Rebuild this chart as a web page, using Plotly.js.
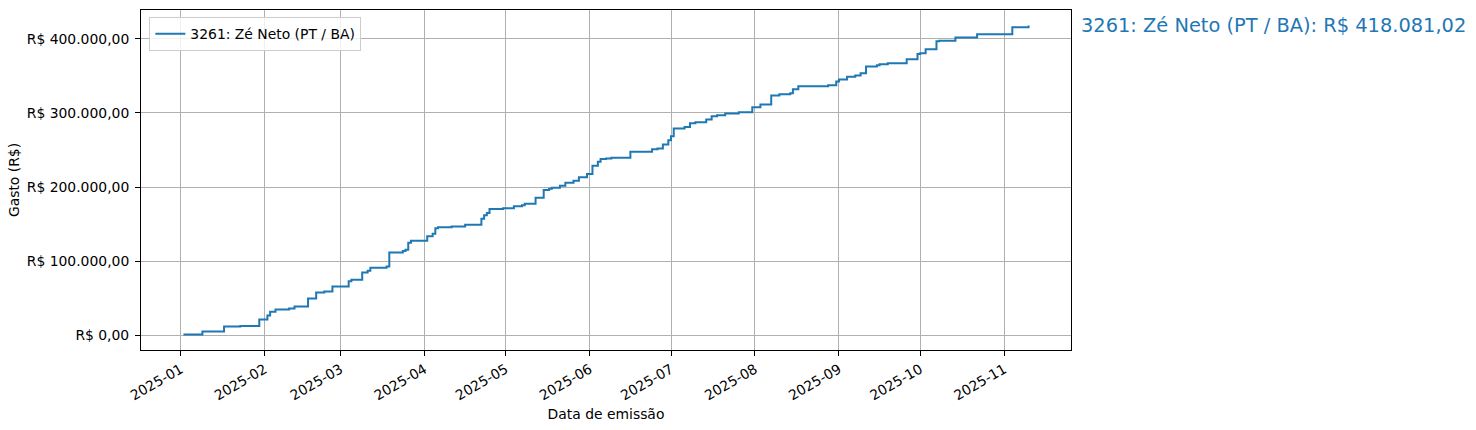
<!DOCTYPE html>
<html>
<head>
<meta charset="utf-8">
<script src="https://cdn.plot.ly/plotly-3.0.1.min.js"></script>
<style>
  html, body { margin: 0; padding: 0; background: #fff; }
  #grafico { width: 1476px; height: 430px; }
</style>
</head>
<body>
<div id="grafico"></div>
<script>
// gasto acumulado por data de emissão
const datasEmissao = [
  '2025-01-02', '2025-01-09', '2025-01-17', '2025-01-23', '2025-01-30',
  '2025-02-02', '2025-02-03', '2025-02-05', '2025-02-10', '2025-02-12',
  '2025-02-17', '2025-02-20', '2025-02-23', '2025-02-26', '2025-03-04',
  '2025-03-05', '2025-03-09', '2025-03-11', '2025-03-12', '2025-03-18',
  '2025-03-19', '2025-03-24', '2025-03-25', '2025-03-26', '2025-03-27',
  '2025-04-02', '2025-04-04', '2025-04-05', '2025-04-06', '2025-04-11',
  '2025-04-16', '2025-04-22', '2025-04-23', '2025-04-24', '2025-04-25',
  '2025-04-30', '2025-05-04', '2025-05-07', '2025-05-08', '2025-05-12',
  '2025-05-15', '2025-05-17', '2025-05-18', '2025-05-21', '2025-05-23',
  '2025-05-26', '2025-05-28', '2025-05-31', '2025-06-02', '2025-06-04',
  '2025-06-05', '2025-06-07', '2025-06-09', '2025-06-16', '2025-06-24',
  '2025-06-26', '2025-06-28', '2025-06-30', '2025-07-01', '2025-07-02',
  '2025-07-06', '2025-07-08', '2025-07-10', '2025-07-14', '2025-07-16',
  '2025-07-18', '2025-07-21', '2025-07-26', '2025-07-31', '2025-08-03',
  '2025-08-07', '2025-08-10', '2025-08-14', '2025-08-15', '2025-08-17',
  '2025-08-28', '2025-08-31', '2025-09-01', '2025-09-04', '2025-09-07',
  '2025-09-09', '2025-09-11', '2025-09-15', '2025-09-16', '2025-09-19',
  '2025-09-26', '2025-09-30', '2025-10-01', '2025-10-03', '2025-10-07',
  '2025-10-08', '2025-10-14', '2025-10-22', '2025-11-04', '2025-11-10'
];

const gastoAcumulado = [
  900, 4950, 11700, 12600, 21200,
  26600, 31500, 34700, 36000, 38700,
  49500, 57700, 59000, 65800, 73000,
  74800, 84700, 86900, 91000, 92800,
  111700, 113500, 115300, 124800, 127500,
  133500, 137000, 144500, 145700, 146800,
  149100, 157300, 161800, 165000, 170500,
  171400, 174100, 175500, 177300, 185500,
  196000, 197700, 199000, 201800, 205900,
  208600, 213200, 217700, 228600, 234100,
  237700, 238600, 239500, 247700, 251000,
  252000, 257500, 263000, 268500, 279000,
  281000, 286000, 287400, 291000, 295500,
  296800, 299100, 300900, 307700, 311300,
  323400, 325200, 326600, 332000, 336000,
  337400, 342300, 345000, 349000, 350400,
  353600, 362600, 364400, 365800, 367100,
  372300, 379500, 380500, 385800, 396600,
  397300, 401800, 406300, 415800, 418081.02
];

const nomeSerie = '3261: Zé Neto (PT / BA)';
const rotuloFinal = '3261: Zé Neto (PT / BA): R$ 418.081,02';

const ticksY = [0, 100000, 200000, 300000, 400000];
const rotulosY = ['R$ 0,00', 'R$ 100.000,00', 'R$ 200.000,00', 'R$ 300.000,00', 'R$ 400.000,00'];

const ticksX = [
  '2025-01-01', '2025-02-01', '2025-03-01', '2025-04-01', '2025-05-01', '2025-06-01',
  '2025-07-01', '2025-08-01', '2025-09-01', '2025-10-01', '2025-11-01'
];
const rotulosX = ticksX.map(d => d.slice(0, 7));

const azul = '#1f77b4';
const fonte = 'DejaVu Sans, sans-serif';

const trace = {
  x: datasEmissao,
  y: gastoAcumulado,
  type: 'scatter',
  mode: 'lines',
  name: nomeSerie,
  line: { color: azul, width: 2, shape: 'hv' }
};

const layout = {
  width: 1476,
  height: 430,
  margin: { l: 141, r: 405, t: 10, b: 80 },
  paper_bgcolor: '#fff',
  plot_bgcolor: '#fff',
  font: { family: fonte, size: 13.9, color: '#000' },
  showlegend: true,
  legend: {
    x: 0.009, y: 0.979, xanchor: 'left', yanchor: 'top',
    bgcolor: 'rgba(255,255,255,0.8)',
    bordercolor: '#cccccc', borderwidth: 1,
    font: { family: fonte, size: 13.9 }
  },
  xaxis: {
    type: 'date',
    range: ['2024-12-17 08:00', '2025-11-25 16:00'],
    tickvals: ticksX,
    ticktext: rotulosX,
    tickangle: -30,
    tickfont: { family: fonte, size: 13.9 },
    ticks: 'outside', ticklen: 5, tickcolor: '#000',
    showline: true, linecolor: '#000', linewidth: 1, mirror: true,
    showgrid: true, gridcolor: '#b0b0b0', gridwidth: 1,
    zeroline: false,
    title: { text: 'Data de emissão', font: { family: fonte, size: 13.9 }, standoff: 6 }
  },
  yaxis: {
    range: [-19959, 438940],
    tickvals: ticksY,
    ticktext: rotulosY,
    tickfont: { family: fonte, size: 13.9 },
    ticks: 'outside', ticklen: 5, tickcolor: '#000',
    ticklabelstandoff: 3,
    showline: true, linecolor: '#000', linewidth: 1, mirror: true,
    showgrid: true, gridcolor: '#b0b0b0', gridwidth: 1,
    zeroline: false,
    title: { text: 'Gasto (R$)', font: { family: fonte, size: 13.9 }, standoff: 3 }
  },
  annotations: [{
    xref: 'paper', yref: 'y',
    x: 1.0086, y: gastoAcumulado[gastoAcumulado.length - 1],
    xanchor: 'left', yanchor: 'middle',
    text: rotuloFinal,
    showarrow: false,
    font: { family: fonte, size: 19.4, color: azul }
  }]
};

Plotly.newPlot('grafico', [trace], layout, { displayModeBar: false, staticPlot: true });
</script>
</body>
</html>
